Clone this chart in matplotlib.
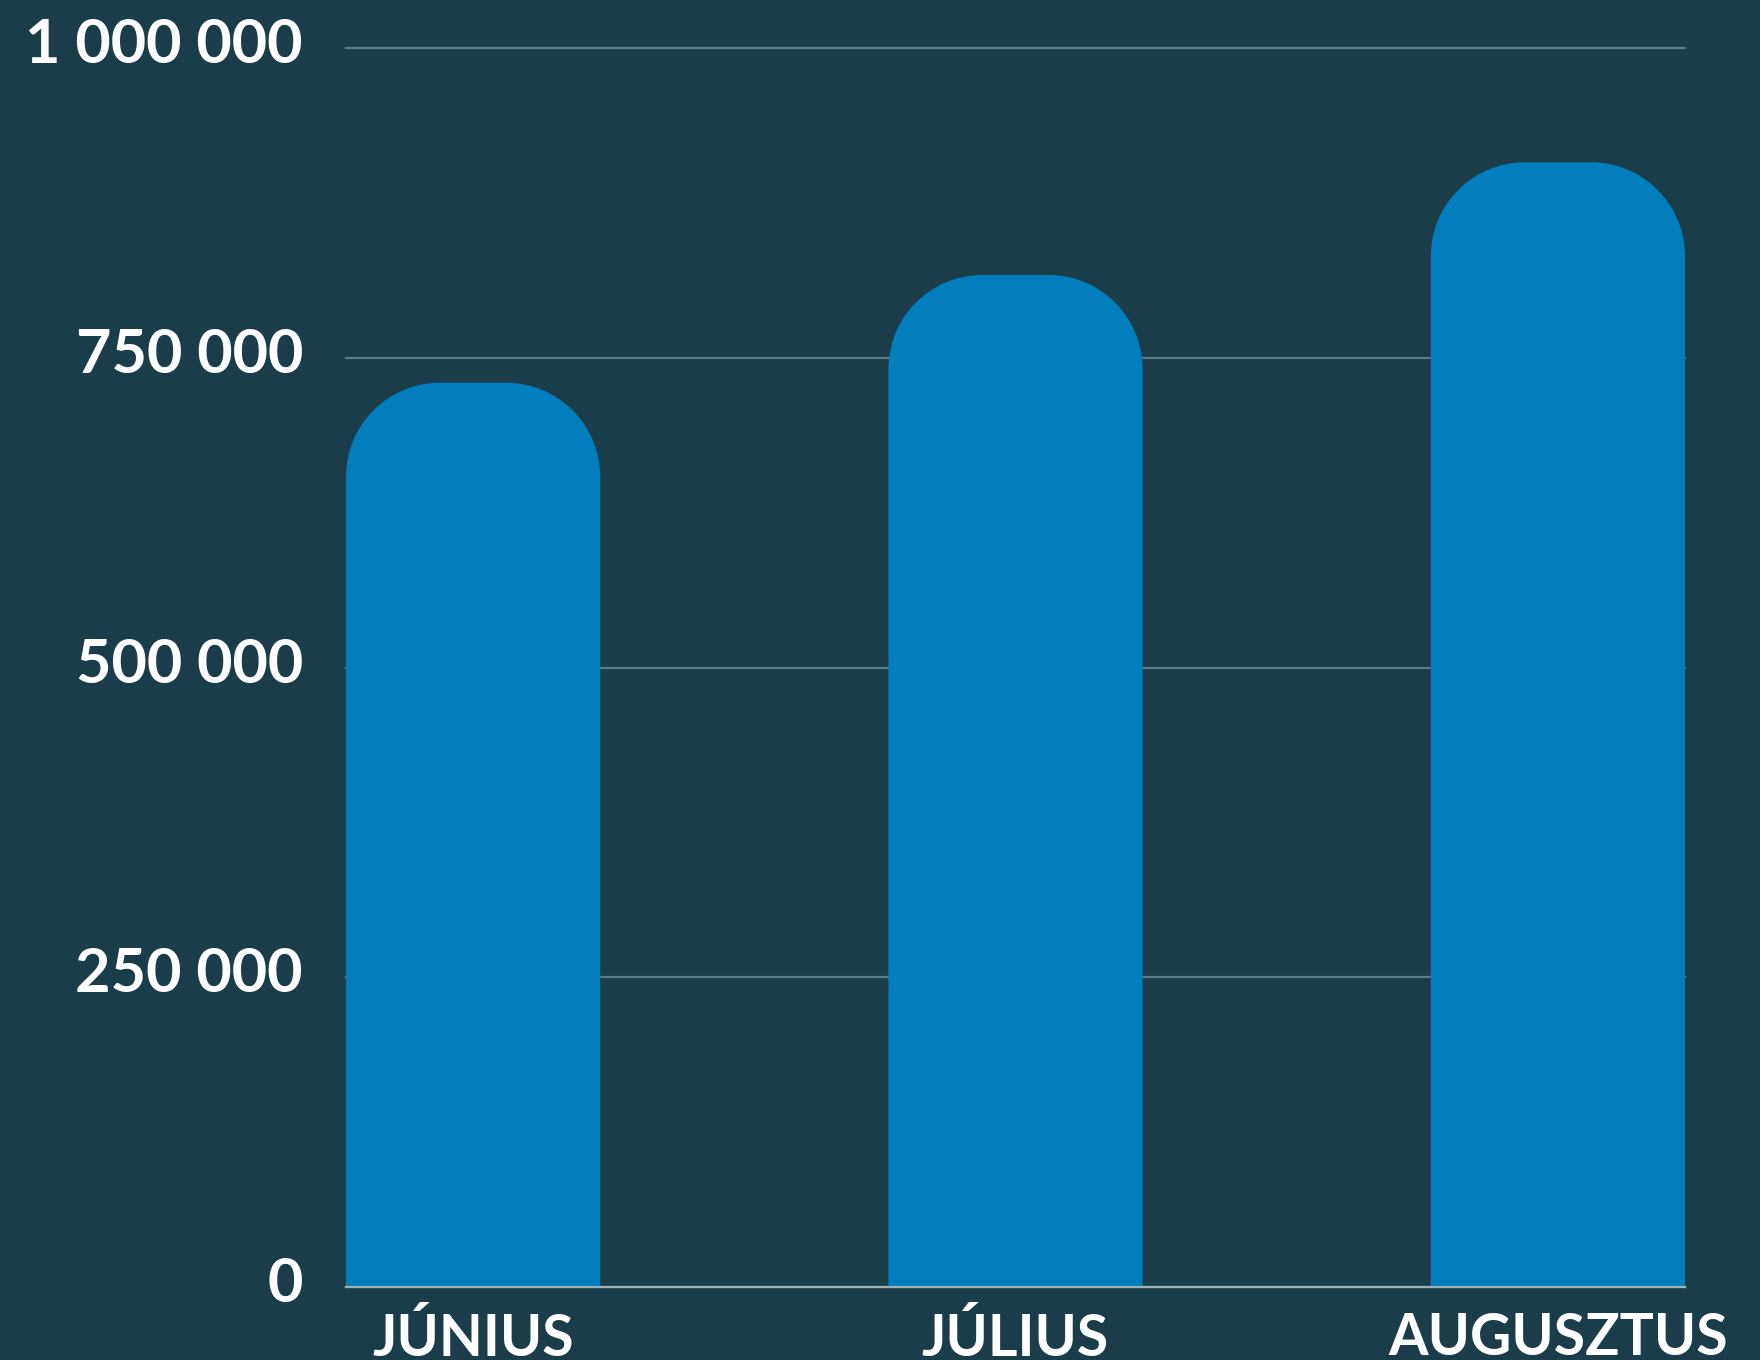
import matplotlib
matplotlib.use("Agg")
import matplotlib.pyplot as plt
import matplotlib.transforms as mtransforms
from matplotlib.path import Path
from matplotlib.patches import PathPatch

categories = ["JÚNIUS", "JÚLIUS", "AUGUSZTUS"]
values = [730000, 817000, 908000]
yticks = [0, 250000, 500000, 750000, 1000000]
ytick_labels = ["0", "250 000", "500 000", "750 000", "1 000 000"]

BG = "#1b3d4a"
BAR = "#037ebd"
GRID = "#5e7a84"
ZERO = "#9fb2b8"

plt.rcParams['font.family'] = ['Lato', 'DejaVu Sans']

fig = plt.figure(figsize=(17.6, 13.6), dpi=100, facecolor=BG)
ax = fig.add_axes([346/1760, 73/1360, (1685-346)/1760, (1311.7-73)/1360])
ax.set_facecolor(BG)

width = 0.4686
bars = ax.bar(range(len(categories)), values, width=width, color=BAR)
ax.set_xlim(-width/2, len(categories) - 1 + width/2)
ax.set_ylim(0, 1000000)

# rounded tops: radius ~94 px converted to data units
fig.canvas.draw()
inv = ax.transData.inverted()
p0 = inv.transform((0, 0))
p1 = inv.transform((94, 94))
rx, ry = p1[0] - p0[0], p1[1] - p0[1]
k = 0.5523
for b in bars:
    x0, y0 = b.get_x(), b.get_y()
    x1, y1 = x0 + b.get_width(), y0 + b.get_height()
    verts = [(x0, y0), (x0, y1 - ry),
             (x0, y1 - ry + k*ry), (x0 + rx - k*rx, y1), (x0 + rx, y1),
             (x1 - rx, y1),
             (x1 - rx + k*rx, y1), (x1, y1 - ry + k*ry), (x1, y1 - ry),
             (x1, y0), (x0, y0)]
    codes = [Path.MOVETO, Path.LINETO,
             Path.CURVE4, Path.CURVE4, Path.CURVE4,
             Path.LINETO,
             Path.CURVE4, Path.CURVE4, Path.CURVE4,
             Path.LINETO, Path.CLOSEPOLY]
    b.set_visible(False)
    ax.add_patch(PathPatch(Path(verts, codes), facecolor=BAR, edgecolor='none', zorder=2))

ax.set_yticks(yticks)
ax.set_yticklabels(ytick_labels)
ax.set_xticks(range(len(categories)))
ax.set_xticklabels(categories)
ax.tick_params(axis='y', length=0, pad=31, labelsize=44, labelcolor='white')
ax.tick_params(axis='x', length=0, pad=18, labelsize=41, labelcolor='white')
for lbl in ax.get_xticklabels() + ax.get_yticklabels():
    lbl.set_fontweight('bold')

offset = mtransforms.ScaledTranslation(0, 8/100, fig.dpi_scale_trans)
for lbl in ax.get_yticklabels():
    lbl.set_transform(lbl.get_transform() + offset)

ax.set_axisbelow(True)
ax.yaxis.grid(True, color=GRID, linewidth=1.6)
for gl in ax.yaxis.get_gridlines():
    gl.set_clip_on(False)
for s in ['left', 'right', 'top']:
    ax.spines[s].set_visible(False)
ax.spines['bottom'].set_color(ZERO)
ax.spines['bottom'].set_linewidth(1.6)
ax.spines['bottom'].set_zorder(5)

fig.savefig("out.png", dpi=100, facecolor=BG)
